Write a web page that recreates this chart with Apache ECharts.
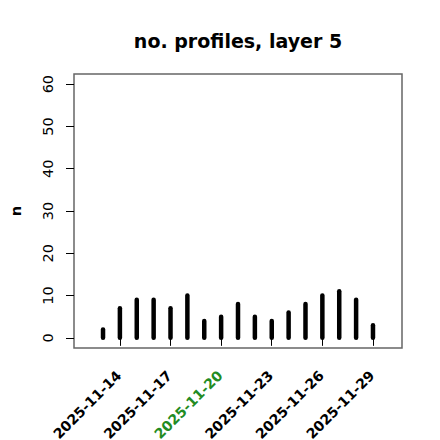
<!DOCTYPE html>
<html>
<head>
<meta charset="utf-8">
<script src="https://cdn.jsdelivr.net/npm/echarts@6/dist/echarts.min.js"></script>
<style>html,body{margin:0;padding:0;background:#fff}#c{width:440px;height:440px}</style>
</head>
<body>
<div id="c"></div>
<script>
// Data
const dates = ['2025-11-13','2025-11-14','2025-11-15','2025-11-16','2025-11-17','2025-11-18','2025-11-19','2025-11-20','2025-11-21','2025-11-22','2025-11-23','2025-11-24','2025-11-25','2025-11-26','2025-11-27','2025-11-28','2025-11-29'];
const counts = [2,7,9,9,7,10,4,5,8,5,4,6,8,10,11,9,3];
const xTickLabels = ['2025-11-14','2025-11-17','2025-11-20','2025-11-23','2025-11-26','2025-11-29'];
const highlightTick = '2025-11-20';
const yTicks = [0,10,20,30,40,50,60];
const xRangeDates = ['2025-11-12','2025-11-30'];
const yRange = [0,60];

const DAY = 86400000;
const dayNum = s => Date.parse(s + 'T00:00:00Z') / DAY;
const dayStr = d => new Date(Math.round(d) * DAY).toISOString().slice(0,10);

const x0 = dayNum(xRangeDates[0]), x1 = dayNum(xRangeDates[1]);
const xExt = (x1 - x0) * 0.04;
const yExt = (yRange[1] - yRange[0]) * 0.04;

const chart = echarts.init(document.getElementById('c'), null, {renderer:'svg'});
const FONT = 'DejaVu Sans';
chart.setOption({
  animation: false,
  backgroundColor: '#fff',
  title: {
    text: 'no. profiles, layer 5',
    left: 233, top: 26, textAlign: 'center',
    textStyle: {fontFamily: FONT, fontWeight: 'bold', fontSize: 19, color: '#000'}
  },
  grid: {left: 74, right: 38, top: 74, bottom: 92, containLabel: false, outerBoundsMode: 'none',
    show: true, borderColor: '#666', borderWidth: 1.5, backgroundColor: 'transparent'},
  xAxis: {
    type: 'value', min: x0 - xExt, max: x1 + xExt,
    axisLine: {show: false},
    splitLine: {show: false},
    axisTick: {show: true, inside: false, length: 8, lineStyle: {color: '#000', width: 1}, customValues: xTickLabels.map(dayNum)},
    axisLabel: {
      show: true, rotate: 45, margin: 24, hideOverlap: false, padding: [0, 1.5, 0, 0],
      customValues: xTickLabels.map(dayNum),
      fontFamily: FONT, fontWeight: 'bold', fontSize: 14, lineHeight: 12, color: '#000',
      formatter: v => { const s = dayStr(v); return s === highlightTick ? '{g|' + s + '}' : s; },
      rich: {g: {color: '#228B22', fontFamily: FONT, fontWeight: 'bold', fontSize: 14, lineHeight: 12}}
    }
  },
  yAxis: {
    type: 'value', min: yRange[0] - yExt, max: yRange[1] + yExt,
    name: 'n', nameLocation: 'middle', nameRotate: 90, nameGap: 51,
    nameTextStyle: {fontFamily: FONT, fontWeight: 'bold', fontSize: 14.5, color: '#000'},
    axisLine: {show: false},
    splitLine: {show: false},
    axisTick: {show: true, inside: false, length: 8, lineStyle: {color: '#000', width: 1}, customValues: yTicks},
    axisLabel: {
      show: true, rotate: 90, margin: 19,
      customValues: yTicks,
      fontFamily: FONT, fontSize: 14.5, color: '#000'
    }
  },
  series: [{
    type: 'custom',
    data: dates.map((d, i) => [dayNum(d), counts[i]]),
    renderItem: (params, api) => {
      const x = api.value(0), y = api.value(1);
      const p0 = api.coord([x, 0]);
      const p1 = api.coord([x, y]);
      return {type: 'line', shape: {x1: p0[0], y1: p0[1], x2: p1[0], y2: p1[1]},
        style: {stroke: '#000', lineWidth: 4.5, lineCap: 'round'}};
    }
  }]
});
</script>
</body>
</html>
